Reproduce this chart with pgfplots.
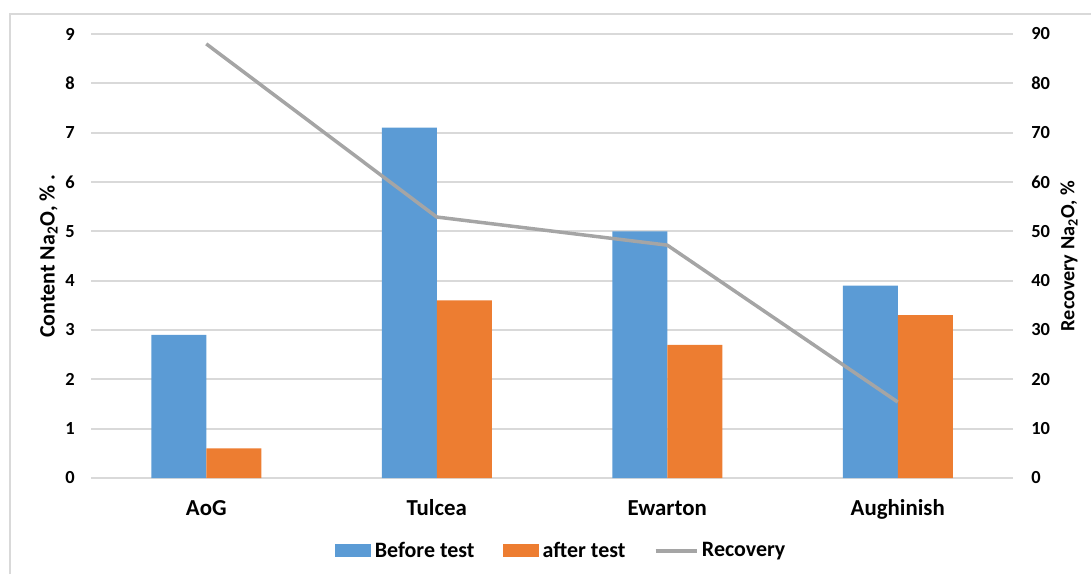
\documentclass[border=0pt]{standalone}
\usepackage{pgfplots}
\pgfplotsset{compat=1.18}
\usepackage{fontspec}
\setmainfont{Carlito}
\definecolor{cblue}{HTML}{5B9BD5}
\definecolor{corange}{HTML}{ED7D31}
\definecolor{cgray}{HTML}{A5A5A5}
\definecolor{cgrid}{HTML}{D9D9D9}
\begin{document}
\begin{tikzpicture}
\useasboundingbox (0,0) rectangle (21.82cm,11.48cm);
\draw[cgrid, line width=0.03cm] (0.2cm,0) -- (0.2cm,11.2cm) -- (21.82cm,11.2cm);
\begin{axis}[
  at={(1.82cm,1.92cm)}, anchor=south west,
  scale only axis, width=18.44cm, height=8.88cm,
  xmin=-0.5, xmax=3.5, ymin=0, ymax=9,
  ybar=0pt, bar width=1.1cm,
  xtick={0,1,2,3}, xticklabels={AoG,Tulcea,Ewarton,Aughinish},
  ytick={0,1,...,9},
  axis line style={draw=none},
  major tick length=0pt,
  ymajorgrids, grid style={cgrid, line width=0.04cm},
  /pgf/number format/assume math mode=true,
  xticklabel style={font=\fontsize{13}{15}\selectfont\bfseries, anchor=base, yshift=-0.74cm},
  yticklabel style={font=\fontsize{10.5}{12}\selectfont\bfseries, anchor=east, inner sep=0pt, xshift=-0.32cm},
  ylabel={Content Na\textsubscript{2}O, \% .},
  ylabel style={font=\fontsize{12.5}{14}\selectfont\bfseries, at={(axis description cs:-0.046,0.5)}, anchor=center},
  legend columns=3,
  legend style={draw=none, fill=none, at={(axis description cs:0.511,-0.164)}, anchor=center,
    font=\fontsize{12.5}{14}\selectfont\bfseries,
    /tikz/every even column/.append style={column sep=0.5cm}},
  legend image code/.code={\fill[#1] (0cm,-0.13cm) rectangle (0.72cm,0.13cm);},
]
\addplot[fill=cblue, draw=none] coordinates {(0,2.9) (1,7.1) (2,5.0) (3,3.9)};
\addlegendentry{Before test}
\addplot[fill=corange, draw=none] coordinates {(0,0.6) (1,3.6) (2,2.7) (3,3.3)};
\addlegendentry{after test}
\addlegendimage{legend image code/.code={\draw[cgray, line width=0.07cm] (0cm,0cm) -- (0.82cm,0cm);}}
\addlegendentry{Recovery}
\end{axis}
\begin{axis}[
  at={(1.82cm,1.92cm)}, anchor=south west,
  scale only axis, width=18.44cm, height=8.88cm,
  xmin=-0.5, xmax=3.5, ymin=0, ymax=90,
  axis x line=none, axis y line*=right,
  axis line style={draw=none},
  major tick length=0pt,
  ytick={0,10,...,90},
  /pgf/number format/assume math mode=true,
  yticklabel style={font=\fontsize{10.5}{12}\selectfont\bfseries, anchor=west, inner sep=0pt, xshift=0.36cm},
  ylabel={Recovery Na\textsubscript{2}O, \%},
  ylabel style={font=\fontsize{11.5}{13}\selectfont\bfseries, at={(axis description cs:1.0607,0.5)}, anchor=center},
]
\addplot[cgray, line width=0.07cm, mark=none] coordinates {(0,88) (1,52.9) (2,47.2) (3,15.4)};
\end{axis}
\end{tikzpicture}
\end{document}
